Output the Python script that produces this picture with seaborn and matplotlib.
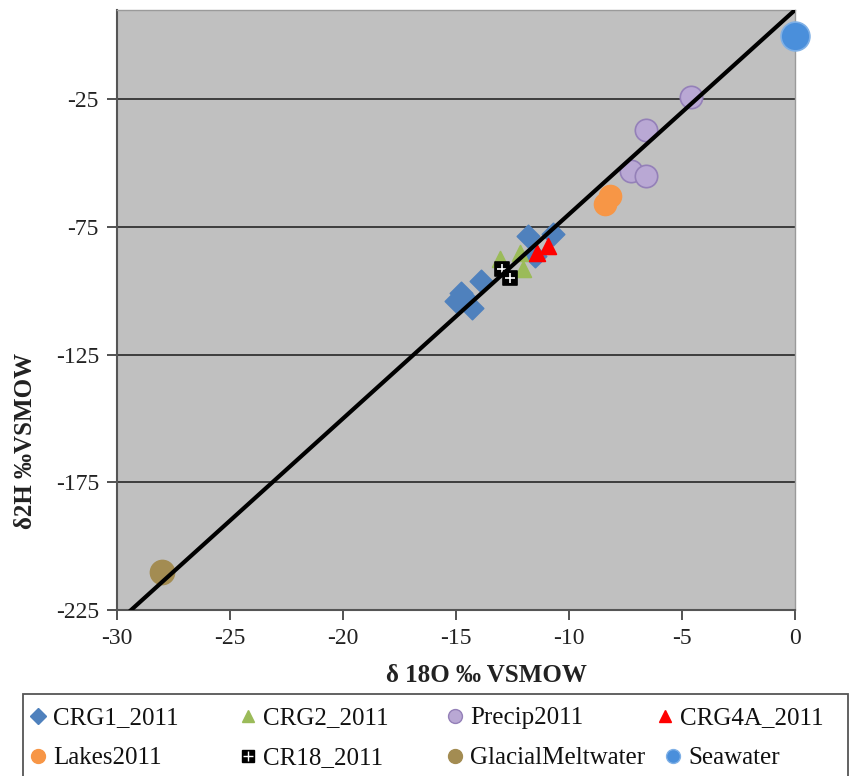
import numpy as np
import pandas as pd
import matplotlib
matplotlib.use("Agg")
import matplotlib.pyplot as plt
import seaborn as sns
from matplotlib.lines import Line2D
from matplotlib.patches import Rectangle

sns.set_theme(style="white")
plt.rcParams['font.family'] = ['Liberation Serif', 'DejaVu Serif']

# ---- data ----
crg1_x = [-15.0, -14.8, -14.6, -14.3, -13.9, -11.8, -11.5, -10.7]
crg1_y = [-103.9, -100.8, -102.7, -106.6, -96.1, -78.5, -86.3, -77.7]
crg2_x = [-13.05, -12.17, -12.04]
crg2_y = [-87.5, -85.2, -91.4]
precip_x = [-4.6, -6.6, -7.25, -6.6]
precip_y = [-24.0, -37.0, -53.0, -55.0]
crg4a_x = [-11.42, -10.93]
crg4a_y = [-85.2, -82.4]
lakes_x = [-8.2, -8.4]
lakes_y = [-63.0, -66.0]
cr18_x = [-12.96, -12.61]
cr18_y = [-91.4, -94.9]
glacial_x = [-28.0]
glacial_y = [-210.0]
sea_x = [0.0]
sea_y = [0.0]

gmwl_slope = 8
gmwl_intercept = 10
gmwl_x = np.array([-30.0, 0.0])
gmwl_y = gmwl_slope * gmwl_x + gmwl_intercept

x_ticks = [-30, -25, -20, -15, -10, -5, 0]
y_ticks = [-225, -175, -125, -75, -25]

# name, x, y, marker, face, edge, size
series = [
    ("CRG1_2011", crg1_x, crg1_y, "D", "#4F81BD", "#4F81BD", 130),
    ("CRG2_2011", crg2_x, crg2_y, "^", "#9BBB59", "#9BBB59", 130),
    ("Precip2011", precip_x, precip_y, "o", "#B9A8D4", "#9480B8", 260),
    ("CRG4A_2011", crg4a_x, crg4a_y, "^", "#FF0000", "#FF0000", 130),
    ("Lakes2011", lakes_x, lakes_y, "o", "#F79646", "#F79646", 250),
    ("CR18_2011", cr18_x, cr18_y, "s", "#000000", "#000000", 110),
    ("GlacialMeltwater", glacial_x, glacial_y, "o", "#A38C52", "#A38C52", 300),
    ("Seawater", sea_x, sea_y, "o", "#4A8FDB", "#7FB0E6", 430),
]

W, H = 849, 776
fig = plt.figure(figsize=(W / 100, H / 100), dpi=100)
ax = fig.add_axes([117 / W, 1 - 610 / H, (795 - 117) / W, (610 - 10) / H])
ax.set_facecolor("#C0C0C0")

for name, xs, ys, mk, fc, ec, s in series:
    df = pd.DataFrame({"x": xs, "y": ys})
    sns.scatterplot(data=df, x="x", y="y", marker=mk, color=fc, edgecolor=ec,
                    linewidth=1.2, s=s, ax=ax, zorder=3, clip_on=False, legend=False)
    if name == "CR18_2011":
        sns.scatterplot(data=df, x="x", y="y", marker="+", color="white",
                        linewidth=1.2, s=60, ax=ax, zorder=3.1, legend=False)

sns.lineplot(x=gmwl_x, y=gmwl_y, color="black", linewidth=3, ax=ax, zorder=5)

ax.set_xlim(-30, 0)
ax.set_ylim(-225, 10)
ax.set_xticks(x_ticks)
ax.set_yticks(y_ticks)
ax.set_xticklabels([str(t) for t in x_ticks])
ax.set_yticklabels([str(t) for t in y_ticks])
ax.grid(axis="y", color="#333333", linewidth=1.3)
ax.grid(axis="x", visible=False)
ax.set_axisbelow(True)

for side in ["top", "right"]:
    ax.spines[side].set_color("#9A9A9A")
    ax.spines[side].set_linewidth(1.0)
for side in ["left", "bottom"]:
    ax.spines[side].set_color("#555555")
    ax.spines[side].set_linewidth(1.5)

ax.tick_params(axis="both", which="major", direction="out", length=7,
               width=1.3, color="#444444", labelsize=17, labelcolor="#222222",
               bottom=True, left=True, pad=6)

ax.set_xlabel("δ 18O ‰ VSMOW", fontsize=18, fontweight="bold", color="#222222")
ax.set_ylabel("δ2H ‰VSMOW", fontsize=18, fontweight="bold", color="#222222")
ax.xaxis.set_label_coords((486 - 117) / 678, (610 - 664) / 600)
ax.yaxis.set_label_coords((37 - 117) / 678, (610 - 441) / 600)

# legend: frame box
fig.add_artist(Rectangle((23 / W, -0.01), (848 - 23) / W, 1 - 694 / H + 0.01,
                         transform=fig.transFigure, facecolor="white",
                         edgecolor="#555555", linewidth=1.3, zorder=0))

fs = 18
fs_px = fs * 100 / 72
hl = 0.6
# marker centre x (px) for each entry, row index
leg_pos = {
    "CRG1_2011": (38, 0), "CRG2_2011": (248, 0), "Precip2011": (455, 0), "CRG4A_2011": (665, 0),
    "Lakes2011": (38, 1), "CR18_2011": (248, 1), "GlacialMeltwater": (455, 1), "Seawater": (673, 1),
}
row_centre = [718, 758]
for name, xs, ys, mk, fc, ec, s in series:
    cx, r = leg_pos[name]
    h = Line2D([], [], linestyle="none", marker=mk, markerfacecolor=fc,
               markeredgecolor=ec, markersize=8 if mk != "o" else 10)
    if name == "CR18_2011":
        h = (h, Line2D([], [], linestyle="none", marker="+", markeredgecolor="white",
                       markersize=7, markeredgewidth=1.0))
    left = cx - hl * fs_px / 2
    leg = fig.legend(handles=[h], labels=[name], loc="center left",
                     bbox_to_anchor=(left / W, 1 - row_centre[r] / H),
                     frameon=False, fontsize=fs, handlelength=hl,
                     handletextpad=0.3, borderpad=0, borderaxespad=0)
    for t in leg.get_texts():
        t.set_color("#111111")

fig.savefig("out.png", dpi=100)
